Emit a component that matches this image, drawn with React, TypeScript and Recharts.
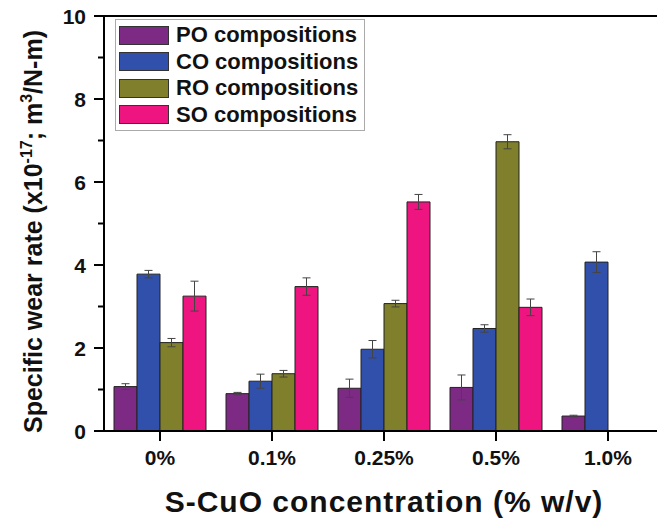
import { BarChart, Bar, XAxis, YAxis, ErrorBar, ReferenceLine, Legend, Label } from 'recharts'

const categories = ['0%', '0.1%', '0.25%', '0.5%', '1.0%']
const poValues = [1.07, 0.9, 1.03, 1.05, 0.36]
const poErrors = [0.07, 0.03, 0.22, 0.3, 0.02]
const coValues = [3.78, 1.2, 1.97, 2.47, 4.07]
const coErrors = [0.09, 0.17, 0.21, 0.09, 0.25]
const roValues = [2.13, 1.38, 3.07, 6.97, null]
const roErrors = [0.1, 0.08, 0.08, 0.17, null]
const soValues = [3.25, 3.48, 5.52, 2.98, null]
const soErrors = [0.36, 0.21, 0.18, 0.2, null]
const yTicks = [0, 1, 2, 3, 4, 5, 6, 7, 8, 9, 10]

const series = [
  { key: 'po', name: 'PO compositions', color: '#7d2a85' },
  { key: 'co', name: 'CO compositions', color: '#3050ac' },
  { key: 'ro', name: 'RO compositions', color: '#7f7f2c' },
  { key: 'so', name: 'SO compositions', color: '#ee1580' },
]

const data = categories.map((c, i) => ({
  cat: c,
  po: poValues[i],
  poErr: poErrors[i],
  co: coValues[i],
  coErr: coErrors[i],
  ro: roValues[i],
  roErr: roErrors[i],
  so: soValues[i],
  soErr: soErrors[i],
}))

const FONT = '"Liberation Sans", Arial, sans-serif'
const TICK_SIZE = 10
const TICK_MARGIN = 8

// y ticks: labels on even values, short minor ticks on odd ones
function YTick(props: any) {
  const { x, y, payload } = props
  const axisX = x + TICK_SIZE + TICK_MARGIN
  const major = payload.value % 2 === 0
  return (
    <g>
      <line x1={axisX - (major ? 10 : 6)} x2={axisX} y1={y} y2={y} stroke="#000" strokeWidth={2} />
      {major && (
        <text x={x} y={y} dy={7.5} textAnchor="end" fontFamily={FONT} fontWeight="bold" fontSize={21} fill="#111">
          {payload.value}
        </text>
      )}
    </g>
  )
}

function YTitle(props: any) {
  const { viewBox } = props
  const cx = 42
  const cy = viewBox.y + viewBox.height / 2 + 8
  return (
    <text
      x={cx}
      y={cy}
      transform={`rotate(-90 ${cx} ${cy})`}
      textAnchor="middle"
      fontFamily={FONT}
      fontWeight="bold"
      fontSize={25}
      fill="#111"
    >
      Specific wear rate (x10
      <tspan dy={-10} fontSize={16}>-17</tspan>
      <tspan dy={10}>; m</tspan>
      <tspan dy={-10} fontSize={16}>3</tspan>
      <tspan dy={10}>/N-m)</tspan>
    </text>
  )
}

function LegendBox() {
  return (
    <div
      style={{
        border: '1px solid #aaa',
        background: '#fff',
        padding: '2px 6px 2px 3px',
        fontFamily: FONT,
        fontWeight: 'bold',
        fontSize: 22,
        color: '#111',
      }}
    >
      {series.map((s) => (
        <div key={s.key} style={{ display: 'flex', alignItems: 'center', height: 26.5 }}>
          <span
            style={{
              display: 'inline-block',
              width: 48,
              height: 17,
              background: s.color,
              border: '1px solid #333',
              marginRight: 7,
            }}
          />
          {s.name}
        </div>
      ))}
    </div>
  )
}

export default function App() {
  return (
    <div style={{ position: 'fixed', left: 0, top: 0, width: 657, height: 518, overflow: 'hidden', background: '#fff' }}>
      <BarChart
        width={664}
        height={518}
        data={data}
        margin={{ top: 16, right: 0, bottom: 0, left: 34 }}
        barCategoryGap={10}
        barGap={0}
      >
        <XAxis
          dataKey="cat"
          height={87}
          axisLine={{ stroke: '#000', strokeWidth: 2 }}
          tickLine={{ stroke: '#000', strokeWidth: 2 }}
          tickSize={TICK_SIZE}
          tickMargin={9}
          tick={{ fontFamily: FONT, fontWeight: 'bold', fontSize: 21, fill: '#111' }}
        >
          <Label
            value="S-CuO concentration (% w/v)"
            position="insideBottom"
            offset={6}
            style={{ fontFamily: FONT, fontWeight: 'bold', fontSize: 30, letterSpacing: 1, fill: '#111' }}
          />
        </XAxis>
        <YAxis
          width={70}
          domain={[0, 10]}
          ticks={yTicks}
          interval={0}
          allowDataOverflow
          axisLine={{ stroke: '#000', strokeWidth: 2 }}
          tickLine={false}
          tickSize={TICK_SIZE}
          tickMargin={TICK_MARGIN}
          tick={<YTick />}
        >
          <Label content={<YTitle />} />
        </YAxis>
        <ReferenceLine y={10} stroke="#000" strokeWidth={2} />
        <Legend
          layout="vertical"
          verticalAlign="middle"
          align="center"
          content={<LegendBox />}
          wrapperStyle={{ position: 'absolute', left: 115, top: 19, width: 'auto' }}
        />
        {series.map((s) => (
          <Bar
            key={s.key}
            dataKey={s.key}
            name={s.name}
            fill={s.color}
            stroke="#222"
            strokeWidth={1}
            isAnimationActive={false}
          >
            <ErrorBar dataKey={`${s.key}Err`} width={4} stroke="#444" strokeWidth={1} />
          </Bar>
        ))}
      </BarChart>
    </div>
  )
}
